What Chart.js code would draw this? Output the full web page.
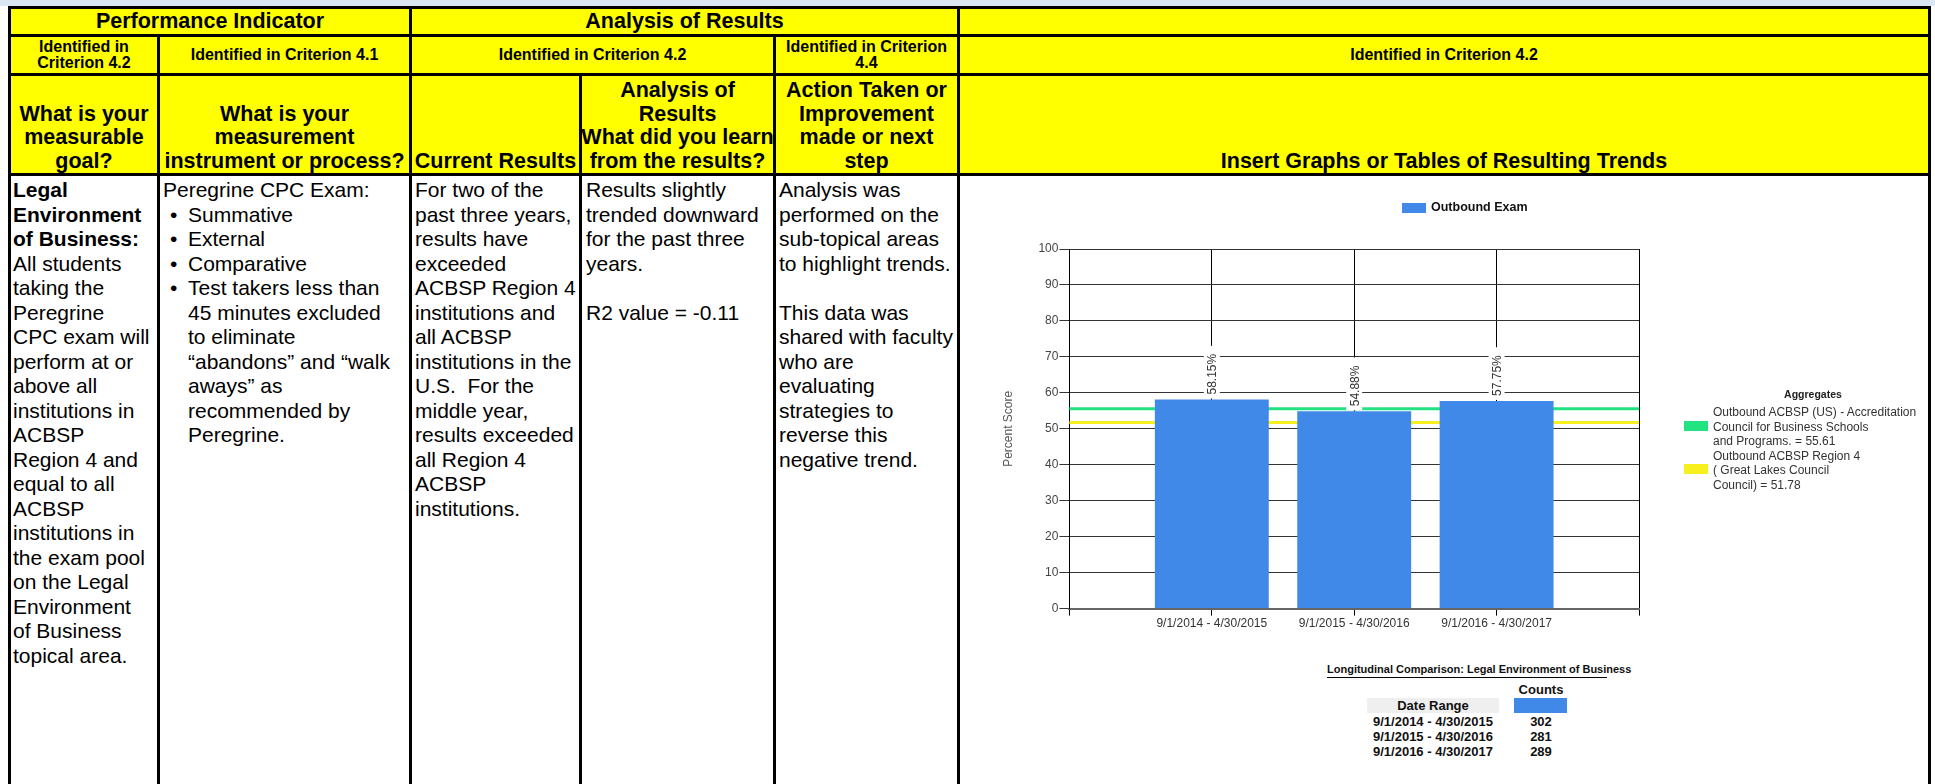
<!DOCTYPE html>
<html>
<head>
<meta charset="utf-8">
<script src="https://cdn.jsdelivr.net/npm/chart.js@4.4.1/dist/chart.umd.min.js"></script>
<style>
  body { margin: 0; width: 1935px; height: 784px; overflow: hidden; background: #fff; position: relative;
         font-family: Arial, "Liberation Sans", sans-serif; color: #000; }
  .strip { position: absolute; left: 0; top: 0; width: 1935px; height: 6px; background: #dce6f2; }
  .yellow { position: absolute; left: 11px; top: 9px; width: 1917px; height: 164px; background: #ffff00; }
  .ln { position: absolute; background: #000; }
  .cell { position: absolute; white-space: nowrap; display: flex; flex-direction: column; align-items: center; text-align: center; font-weight: bold; }
  .r1 { top: 9px; height: 25px; justify-content: center; font-size: 21.5px; line-height: 25px; }
  .r2 { top: 37px; height: 36px; justify-content: center; font-size: 16px; line-height: 16.5px; }
  .r3 { top: 76px; height: 97px; justify-content: flex-end; font-size: 21.5px; line-height: 23.5px; }
  .txt { position: absolute; top: 178px; white-space: nowrap; font-size: 21px; line-height: 24.5px; }
  .bul { display: inline-block; width: 18px; margin-left: 7px; }
  .ind { display: inline-block; width: 25px; }
  .abs { position: absolute; white-space: nowrap; }
  .sw { position: absolute; width: 24px; height: 10px; }
</style>
</head>
<body>
<div class="strip"></div>
<div class="yellow"></div>

<!-- header cells -->
<div class="cell r1" style="left:11px;width:398px">Performance Indicator</div>
<div class="cell r1" style="left:412px;width:545px">Analysis of Results</div>

<div class="cell r2" style="left:11px;width:146px">Identified in<br>Criterion 4.2</div>
<div class="cell r2" style="left:160px;width:249px">Identified in Criterion 4.1</div>
<div class="cell r2" style="left:412px;width:361px">Identified in Criterion 4.2</div>
<div class="cell r2" style="left:776px;width:181px">Identified in Criterion<br>4.4</div>
<div class="cell r2" style="left:960px;width:968px">Identified in Criterion 4.2</div>

<div class="cell r3" style="left:11px;width:146px"><div>What is your<br>measurable<br>goal?</div></div>
<div class="cell r3" style="left:160px;width:249px"><div>What is your<br>measurement<br>instrument or process?</div></div>
<div class="cell r3" style="left:412px;width:167px"><div>Current Results</div></div>
<div class="cell r3" style="left:582px;width:191px"><div>Analysis of<br>Results<br>What did you learn<br>from the results?</div></div>
<div class="cell r3" style="left:776px;width:181px"><div>Action Taken or<br>Improvement<br>made or next<br>step</div></div>
<div class="cell r3" style="left:960px;width:968px"><div>Insert Graphs or Tables of Resulting Trends</div></div>

<!-- body text -->
<div class="txt" style="left:13px"><b>Legal<br>Environment<br>of Business:</b><br>All students<br>taking the<br>Peregrine<br>CPC exam will<br>perform at or<br>above all<br>institutions in<br>ACBSP<br>Region 4 and<br>equal to all<br>ACBSP<br>institutions in<br>the exam pool<br>on the Legal<br>Environment<br>of Business<br>topical area.</div>
<div class="txt" style="left:163px">Peregrine CPC Exam:<br><span class="bul">•</span>Summative<br><span class="bul">•</span>External<br><span class="bul">•</span>Comparative<br><span class="bul">•</span>Test takers less than<br><span class="ind"></span>45 minutes excluded<br><span class="ind"></span>to eliminate<br><span class="ind"></span>“abandons” and “walk<br><span class="ind"></span>aways” as<br><span class="ind"></span>recommended by<br><span class="ind"></span>Peregrine.</div>
<div class="txt" style="left:415px">For two of the<br>past three years,<br>results have<br>exceeded<br>ACBSP Region 4<br>institutions and<br>all ACBSP<br>institutions in the<br>U.S.&nbsp; For the<br>middle year,<br>results exceeded<br>all Region 4<br>ACBSP<br>institutions.</div>
<div class="txt" style="left:586px">Results slightly<br>trended downward<br>for the past three<br>years.<br><br>R2 value = -0.11</div>
<div class="txt" style="left:779px">Analysis was<br>performed on the<br>sub-topical areas<br>to highlight trends.<br><br>This data was<br>shared with faculty<br>who are<br>evaluating<br>strategies to<br>reverse this<br>negative trend.</div>

<!-- grid lines -->
<div class="ln" style="left:8px;top:6px;width:1923px;height:3px"></div>
<div class="ln" style="left:8px;top:34px;width:1923px;height:3px"></div>
<div class="ln" style="left:8px;top:73px;width:1923px;height:3px"></div>
<div class="ln" style="left:8px;top:173px;width:1923px;height:3px"></div>
<div class="ln" style="left:8px;top:6px;width:3px;height:778px"></div>
<div class="ln" style="left:157px;top:34px;width:3px;height:750px"></div>
<div class="ln" style="left:409px;top:6px;width:3px;height:778px"></div>
<div class="ln" style="left:579px;top:73px;width:3px;height:711px"></div>
<div class="ln" style="left:773px;top:34px;width:3px;height:750px"></div>
<div class="ln" style="left:957px;top:6px;width:3px;height:778px"></div>
<div class="ln" style="left:1928px;top:6px;width:3px;height:778px"></div>

<!-- chart -->
<div style="position:absolute;left:960px;top:176px;width:968px;height:470px">
  <canvas id="chart" width="968" height="470"></canvas>
</div>

<!-- legends -->
<div id="bar-swatch" class="sw" style="left:1402px;top:203px"></div>
<div class="abs" id="bar-legend" style="left:1431px;top:199px;font-size:12.5px;line-height:16px;font-weight:bold;color:#111"></div>

<div class="abs" style="left:1763px;top:387px;width:100px;text-align:center;font-size:10.5px;line-height:14px;font-weight:bold;color:#222">Aggregates</div>
<div id="agg-us-swatch" class="sw" style="left:1684px;top:421px"></div>
<div id="agg-region-swatch" class="sw" style="left:1684px;top:464px"></div>
<div class="abs" id="agg-text" style="left:1713px;top:405px;font-size:12px;line-height:14.5px;color:#333"></div>

<!-- counts table -->
<div class="abs" style="left:1327px;top:662px;width:280px;height:15px;border-bottom:1px solid #000;text-align:right;font-family:'Liberation Sans Narrow','Arial Narrow',Arial,sans-serif;font-weight:bold;font-size:11px;line-height:15px;color:#111">Longitudinal Comparison: Legal Environment of Business</div>
<div class="abs" style="left:1514px;top:682px;width:54px;text-align:center;font-weight:bold;font-size:13px;line-height:15px;color:#111">Counts</div>
<div id="count-swatch" class="abs" style="left:1514px;top:698px;width:53px;height:15px"></div>
<div class="abs" style="left:1367px;top:698px;width:132px;height:15px;background:#efefef;text-align:center;font-weight:bold;font-size:13px;line-height:15px;color:#111">Date Range</div>
<div id="count-rows"></div>

<script>
const categories = ["", "9/1/2014 - 4/30/2015", "9/1/2015 - 4/30/2016", "9/1/2016 - 4/30/2017", ""];
const outboundScores = [null, 58.15, 54.88, 57.75, null];
const usAggregate = [55.61, 55.61, 55.61, 55.61, 55.61];
const regionAggregate = [51.78, 51.78, 51.78, 51.78, 51.78];
const yTicks = [0, 10, 20, 30, 40, 50, 60, 70, 80, 90, 100];
const dateRanges = ["9/1/2014 - 4/30/2015", "9/1/2015 - 4/30/2016", "9/1/2016 - 4/30/2017"];
const counts = [302, 281, 289];

const barColor = "#4189E8";
const usColor = "#22E382";
const regionColor = "#F7F01E";

const barName = "Outbound Exam";
const usName = "Outbound ACBSP (US) -  Accreditation<br>Council for Business Schools<br>and Programs. = 55.61";
const regionName = "Outbound ACBSP Region 4<br>( Great Lakes Council<br>Council) = 51.78";

Chart.defaults.font.family = 'Arial, "Liberation Sans", sans-serif';

// rotated value labels with white backing, like the original report
const barLabels = {
  id: "barLabels",
  afterDatasetsDraw(chart) {
    const ctx = chart.ctx;
    const meta = chart.getDatasetMeta(0);
    ctx.save();
    ctx.font = '12px Arial, "Liberation Sans", sans-serif';
    meta.data.forEach((bar, i) => {
      const v = outboundScores[i];
      if (v == null) return;
      const text = v.toFixed(2) + "%";
      const w = ctx.measureText(text).width;
      ctx.save();
      ctx.translate(bar.x, bar.y - 5);
      ctx.rotate(-Math.PI / 2);
      ctx.fillStyle = "#fff";
      ctx.fillRect(-4, -8, w + 12, 16);
      ctx.fillStyle = "#333";
      ctx.textBaseline = "middle";
      ctx.fillText(text, 0, 1);
      ctx.restore();
    });
    ctx.restore();
  },
};

new Chart(document.getElementById("chart").getContext("2d"), {
  type: "bar",
  data: {
    labels: categories,
    datasets: [
      { type: "bar", label: barName, data: outboundScores, backgroundColor: barColor, order: 1,
        barPercentage: 1, categoryPercentage: 0.8 },
      { type: "line", label: "US", data: usAggregate, borderColor: usColor, borderWidth: 3,
        pointRadius: 0, fill: false, order: 2 },
      { type: "line", label: "Region 4", data: regionAggregate, borderColor: regionColor, borderWidth: 3,
        pointRadius: 0, fill: false, order: 3 },
    ],
  },
  options: {
    responsive: false,
    animation: false,
    layout: { padding: { left: 37, right: 289, top: 73, bottom: 14 } },
    plugins: { legend: { display: false }, tooltip: { enabled: false } },
    scales: {
      x: {
        type: "category",
        offset: false,
        grid: { offset: false, color: "#000", tickLength: 7, tickColor: "#000" },
        border: { color: "#666", width: 2 },
        ticks: { color: "#333", font: { size: 12 }, padding: 1, autoSkip: false, maxRotation: 0 },
      },
      y: {
        min: 0,
        max: 100,
        afterBuildTicks: (axis) => { axis.ticks = yTicks.map((v) => ({ value: v })); },
        grid: { color: "#333", tickLength: 10, tickColor: "#333" },
        border: { color: "#000", width: 1 },
        ticks: { color: "#444", font: { size: 12 }, padding: 1 },
        title: { display: true, text: "Percent Score", color: "#555", font: { size: 12 }, padding: { top: 4, bottom: 22 } },
      },
    },
  },
  plugins: [barLabels],
});

document.getElementById("bar-swatch").style.background = barColor;
document.getElementById("bar-legend").innerHTML = barName;
document.getElementById("agg-us-swatch").style.background = usColor;
document.getElementById("agg-region-swatch").style.background = regionColor;
document.getElementById("agg-text").innerHTML = usName + "<br>" + regionName;
document.getElementById("count-swatch").style.background = barColor;

const rows = document.getElementById("count-rows");
dateRanges.forEach((range, i) => {
  const top = 714 + i * 15;
  const d = document.createElement("div");
  d.className = "abs";
  d.style.cssText = `left:1367px;top:${top}px;width:132px;text-align:center;font-weight:bold;font-size:13px;line-height:15px;color:#111`;
  d.innerHTML = range;
  rows.appendChild(d);
  const c = document.createElement("div");
  c.className = "abs";
  c.style.cssText = `left:1514px;top:${top}px;width:54px;text-align:center;font-weight:bold;font-size:13px;line-height:15px;color:#111`;
  c.innerHTML = counts[i];
  rows.appendChild(c);
});
</script>
</body>
</html>
